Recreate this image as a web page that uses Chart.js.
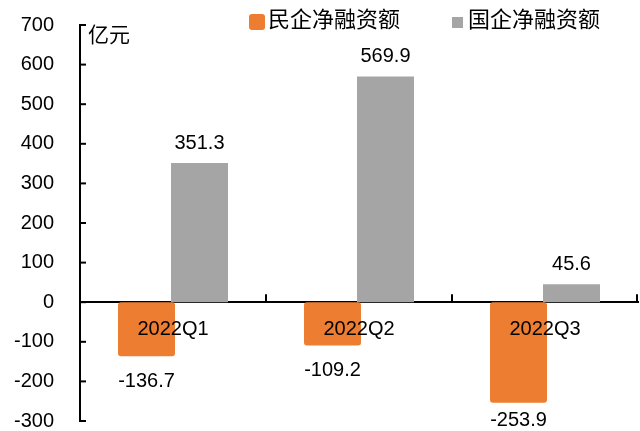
<!DOCTYPE html>
<html>
<head>
<meta charset="utf-8">
<script src="https://cdn.jsdelivr.net/npm/chart.js@4"></script>
<style>
  html, body { margin: 0; padding: 0; background: #fff; }
  #wrap { width: 640px; height: 431px; }
</style>
</head>
<body>
<div id="wrap"><canvas id="financeChart"></canvas></div>
<script>
// values (亿元)
const quarters = ['2022Q1', '2022Q2', '2022Q3'];
const privateNet = [-136.7, -109.2, -253.9];
const stateNet = [351.3, 569.9, 45.6];
const seriesNames = ['民企净融资额', '国企净融资额'];
const yTicks = [-300, -200, -100, 0, 100, 200, 300, 400, 500, 600, 700];

const FONT = "'Liberation Sans', 'Noto Sans CJK SC', sans-serif";
const ORANGE = '#ED7D31';
const GREY = '#A5A5A5';

// inward tick marks, unit text, legend and value labels
const decorations = {
  id: 'decorations',
  afterDatasetsDraw(chart) {
    const ctx = chart.ctx;
    const area = chart.chartArea;
    const y = chart.scales.y;
    const zero = y.getPixelForValue(0);

    ctx.save();
    ctx.strokeStyle = '#000';
    ctx.lineWidth = 2;
    // y ticks pointing right
    y.ticks.forEach((t, i) => {
      const py = y.getPixelForTick(i);
      ctx.beginPath();
      ctx.moveTo(area.left, py);
      ctx.lineTo(area.left + 6, py);
      ctx.stroke();
    });
    // category borders pointing up
    const step = (area.right - area.left) / quarters.length;
    for (let i = 1; i <= quarters.length; i++) {
      const px = Math.min(area.left + i * step, area.right - 1);
      ctx.beginPath();
      ctx.moveTo(px, zero);
      ctx.lineTo(px, zero - 8);
      ctx.stroke();
    }

    // value labels
    ctx.fillStyle = '#000';
    ctx.font = '20px ' + FONT;
    ctx.textAlign = 'center';
    ctx.textBaseline = 'middle';
    chart.data.datasets.forEach((ds, di) => {
      chart.getDatasetMeta(di).data.forEach((bar, i) => {
        const v = ds.data[i];
        let ly = v >= 0 ? bar.y - 20 : bar.y + 25;
        ly = Math.min(ly, chart.height - 11);
        ctx.fillText(v.toFixed(1), bar.x, ly);
      });
    });

    // unit
    ctx.textAlign = 'left';
    ctx.font = '21px ' + FONT;
    ctx.fillText('亿元', area.left + 8, 36);

    // legend
    ctx.font = '22px ' + FONT;
    ctx.fillStyle = ORANGE;
    ctx.beginPath();
    ctx.roundRect(249, 14, 16, 16, 3);
    ctx.fill();
    ctx.fillStyle = '#000';
    ctx.fillText(seriesNames[0], 268, 21);
    ctx.fillStyle = GREY;
    ctx.fillRect(452, 17, 11, 11);
    ctx.fillStyle = '#000';
    ctx.fillText(seriesNames[1], 468, 21);
    ctx.restore();
  }
};

new Chart(document.getElementById('financeChart'), {
  type: 'bar',
  data: {
    labels: quarters,
    datasets: [
      {
        label: seriesNames[0],
        data: privateNet,
        backgroundColor: ORANGE,
        borderRadius: 3,
        borderSkipped: false,
        categoryPercentage: 0.57,
        barPercentage: 1.075,
      },
      {
        label: seriesNames[1],
        data: stateNet,
        backgroundColor: GREY,
        categoryPercentage: 0.57,
        barPercentage: 1.075,
      },
    ],
  },
  options: {
    responsive: true,
    maintainAspectRatio: false,
    animation: false,
    layout: { padding: { left: 13, right: 2, top: 25, bottom: 10 } },
    scales: {
      x: {
        position: { y: 0 },
        grid: { display: false, drawTicks: false },
        border: { display: true, color: '#000', width: 2 },
        ticks: { z: 1, color: '#000', padding: 15, font: { family: FONT, size: 20 } },
      },
      y: {
        min: -300,
        max: 700,
        afterBuildTicks: (scale) => { scale.ticks = yTicks.map(v => ({ value: v })); },
        afterFit: (scale) => {
          scale.width = 67;
          scale.paddingTop = 0;
          scale.paddingBottom = 0;
        },
        grid: { display: false, drawTicks: false },
        border: { display: true, color: '#000', width: 2 },
        ticks: { color: '#000', padding: 26, font: { family: FONT, size: 20, lineHeight: 1 } },
      },
    },
    plugins: {
      legend: { display: false },
      tooltip: { enabled: false },
    },
  },
  plugins: [decorations],
});
</script>
</body>
</html>
